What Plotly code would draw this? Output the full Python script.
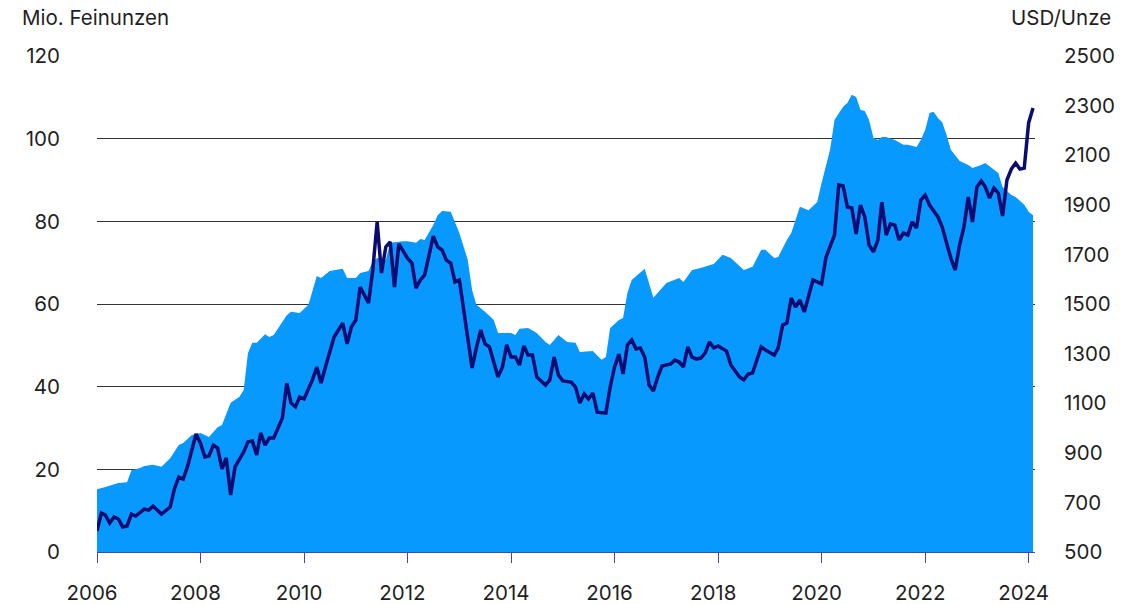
import plotly.graph_objects as go

# ETF holdings (Mio. Feinunzen) - left axis, area
etf_dates = [
    "2006-01", "2006-03", "2006-06", "2006-08", "2006-09", "2006-11", "2006-12",
    "2007-02", "2007-04", "2007-06", "2007-08", "2007-09", "2007-11",
    "2008-01", "2008-03", "2008-05", "2008-06", "2008-08", "2008-10", "2008-11", "2008-12",
    "2009-01", "2009-02", "2009-04", "2009-05", "2009-06", "2009-09", "2009-10", "2009-12",
    "2010-02", "2010-04", "2010-05", "2010-07", "2010-10", "2010-11",
    "2011-01", "2011-02", "2011-04", "2011-05", "2011-06", "2011-08", "2011-09", "2011-12",
    "2012-01", "2012-03", "2012-04", "2012-05", "2012-07", "2012-08", "2012-09", "2012-11", "2012-12",
    "2013-01", "2013-03", "2013-04", "2013-05", "2013-07", "2013-09", "2013-10",
    "2014-01", "2014-02", "2014-03", "2014-05", "2014-07", "2014-09", "2014-10", "2014-12",
    "2015-02", "2015-04", "2015-05", "2015-08", "2015-10", "2015-11", "2015-12",
    "2016-02", "2016-03", "2016-04", "2016-05", "2016-08", "2016-10",
    "2017-01", "2017-04", "2017-05", "2017-07", "2017-09", "2017-11", "2017-12",
    "2018-02", "2018-04", "2018-07", "2018-09", "2018-11", "2018-12",
    "2019-02", "2019-03", "2019-05", "2019-06", "2019-08", "2019-10", "2019-12",
    "2020-01", "2020-03", "2020-04", "2020-06", "2020-07", "2020-08", "2020-09", "2020-10", "2020-11", "2020-12",
    "2021-01", "2021-02", "2021-03", "2021-04", "2021-06", "2021-08", "2021-09", "2021-11", "2021-12",
    "2022-01", "2022-02", "2022-03", "2022-04", "2022-05", "2022-06", "2022-07", "2022-09", "2022-11", "2022-12",
    "2023-02", "2023-03", "2023-06", "2023-07", "2023-09", "2023-10", "2023-12",
    "2024-01", "2024-02",
]
etf_values = [
    15.2, 15.7, 16.7, 16.9, 19.8, 20.3, 20.8,
    21.1, 20.6, 22.7, 25.9, 26.4, 28.3,
    28.8, 27.8, 30.2, 30.7, 36.1, 37.5, 39.2, 48.1,
    50.6, 50.6, 52.7, 52.0, 52.5, 57.3, 58.1, 57.8,
    59.8, 66.8, 66.3, 68.0, 68.5, 66.3,
    66.3, 67.5, 68.0, 70.2, 71.1, 70.7, 74.8, 75.2,
    75.2, 74.8, 75.7, 75.5, 79.1, 81.5, 82.5, 82.3, 79.6,
    77.2, 70.7, 63.4, 59.8, 58.1, 56.1, 53.0,
    53.0, 52.5, 54.0, 54.2, 53.0, 50.8, 50.1, 52.5,
    50.8, 50.6, 48.4, 48.6, 46.5, 47.2, 54.2,
    56.1, 56.6, 62.7, 65.8, 68.5, 61.5,
    65.1, 66.3, 65.3, 68.2, 68.7, 69.4, 69.7,
    71.9, 71.1, 68.2, 69.0, 73.1, 73.1,
    71.1, 71.4, 75.5, 77.2, 83.5, 82.7, 84.7,
    89.3, 97.3, 104.5, 107.7, 108.6, 110.6, 110.1, 107.0, 106.7, 104.5,
    100.2, 99.7, 100.4, 100.4, 99.7, 98.5, 98.5, 98.0, 99.7,
    102.1, 106.2, 106.5, 105.0, 104.0, 100.9, 97.3, 94.6, 93.6, 92.9,
    93.6, 94.1, 91.7, 88.3, 86.4, 85.9, 84.0,
    82.3, 81.5,
]

# Gold price (USD/Unze) - right axis, line
gold_dates = [
    "2006-01", "2006-02", "2006-03", "2006-04", "2006-05", "2006-06", "2006-07", "2006-08", "2006-09", "2006-10", "2006-12",
    "2007-01", "2007-02", "2007-04", "2007-06", "2007-07", "2007-08", "2007-09", "2007-10", "2007-12",
    "2008-01", "2008-02", "2008-03", "2008-04", "2008-05", "2008-06", "2008-07", "2008-08", "2008-09", "2008-11", "2008-12",
    "2009-01", "2009-02", "2009-03", "2009-04", "2009-05", "2009-06", "2009-08", "2009-09", "2009-10", "2009-11", "2009-12",
    "2010-01", "2010-03", "2010-04", "2010-05", "2010-06", "2010-08", "2010-10", "2010-11", "2010-12",
    "2011-01", "2011-02", "2011-04", "2011-05", "2011-06", "2011-07", "2011-08", "2011-09", "2011-10", "2011-11",
    "2012-01", "2012-02", "2012-03", "2012-04", "2012-05", "2012-07", "2012-08", "2012-09", "2012-10", "2012-11", "2012-12",
    "2013-01", "2013-02", "2013-04", "2013-05", "2013-06", "2013-07", "2013-08", "2013-10", "2013-11", "2013-12",
    "2014-01", "2014-02", "2014-03", "2014-04", "2014-05", "2014-06", "2014-07", "2014-09", "2014-10", "2014-11", "2014-12",
    "2015-01", "2015-03", "2015-04", "2015-05", "2015-06", "2015-07", "2015-08", "2015-09", "2015-11", "2015-12",
    "2016-01", "2016-02", "2016-03", "2016-04", "2016-05", "2016-06", "2016-07", "2016-08", "2016-09", "2016-10", "2016-11", "2016-12",
    "2017-02", "2017-03", "2017-04", "2017-05", "2017-06", "2017-07", "2017-08", "2017-09", "2017-10", "2017-11", "2017-12",
    "2018-01", "2018-03", "2018-04", "2018-06", "2018-07", "2018-08", "2018-09", "2018-11", "2018-12",
    "2019-02", "2019-03", "2019-04", "2019-05", "2019-06", "2019-07", "2019-08", "2019-09", "2019-11", "2019-12",
    "2020-01", "2020-02", "2020-04", "2020-05", "2020-06", "2020-07", "2020-08", "2020-09", "2020-10", "2020-11", "2020-12",
    "2021-01", "2021-02", "2021-03", "2021-04", "2021-05", "2021-06", "2021-07", "2021-08", "2021-09", "2021-10", "2021-11", "2021-12",
    "2022-01", "2022-02", "2022-04", "2022-05", "2022-06", "2022-07", "2022-08", "2022-09", "2022-10", "2022-11", "2022-12",
    "2023-01", "2023-02", "2023-03", "2023-04", "2023-05", "2023-06", "2023-07", "2023-08", "2023-09", "2023-10", "2023-11", "2023-12",
    "2024-01", "2024-02",
]
gold_values = [
    585, 657, 649, 617, 641, 633, 601, 605, 653, 645, 673,
    669, 685, 653, 681, 754, 802, 794, 843, 976,
    939, 883, 887, 931, 919, 835, 879, 730, 843, 903, 944,
    948, 891, 980, 931, 960, 960, 1040, 1181, 1101, 1085, 1125,
    1117, 1194, 1246, 1181, 1246, 1367, 1423, 1339, 1407,
    1435, 1568, 1504, 1637, 1831, 1625, 1730, 1750, 1568, 1742,
    1685, 1665, 1564, 1597, 1617, 1774, 1730, 1718, 1677, 1665, 1589,
    1597, 1476, 1242, 1323, 1395, 1339, 1327, 1206, 1246, 1335,
    1286, 1286, 1254, 1331, 1294, 1294, 1206, 1173, 1194, 1286, 1214,
    1190, 1185, 1165, 1101, 1137, 1117, 1141, 1064, 1060, 1165,
    1246, 1298, 1218, 1335, 1355, 1319, 1323, 1286, 1173, 1149, 1206, 1250,
    1258, 1274, 1266, 1246, 1327, 1286, 1278, 1282, 1302, 1347, 1323,
    1331, 1310, 1254, 1206, 1194, 1218, 1222, 1327, 1314,
    1294, 1323, 1415, 1423, 1524, 1488, 1516, 1468, 1597, 1589,
    1581, 1689, 1778, 1980, 1976, 1891, 1887, 1782, 1899, 1851, 1738,
    1710, 1758, 1911, 1778, 1823, 1818, 1758, 1786, 1778, 1831, 1806, 1919,
    1939, 1899, 1851, 1810, 1746, 1685, 1637, 1738, 1810, 1931, 1831,
    1972, 1996, 1972, 1927, 1968, 1947, 1855, 2000, 2044, 2068, 2044, 2048,
    2230, 2290,
]

x_tick_years = ["2006", "2008", "2010", "2012", "2014", "2016", "2018", "2020", "2022", "2024"]
left_ticks = [0, 20, 40, 60, 80, 100, 120]
right_ticks = [500, 700, 900, 1100, 1300, 1500, 1700, 1900, 2100, 2300, 2500]

FONT = "Inter, 'Open Sans', sans-serif"
TXT = "#1f1f1f"
AREA = "#0799FD"
LINE = "#0B0B72"
AXIS = "#4646A6"
TICK_SIZE = 20.5

fig = go.Figure()
fig.add_trace(go.Scatter(
    x=etf_dates, y=etf_values, mode="lines", fill="tozeroy",
    fillcolor=AREA, line=dict(width=0, color=AREA),
    name="ETF-Bestände", yaxis="y", hoverinfo="skip",
))
fig.add_trace(go.Scatter(
    x=gold_dates, y=gold_values, mode="lines",
    line=dict(width=3.5, color=LINE), name="Goldpreis", yaxis="y2",
))

fig.update_layout(
    width=1121, height=604,
    margin=dict(l=97, r=86, t=56, b=52, autoexpand=False),
    paper_bgcolor="white", plot_bgcolor="white",
    showlegend=False,
    font=dict(family=FONT, size=TICK_SIZE, color=TXT),
    xaxis=dict(
        type="date",
        range=["2006-01-01", "2024-02-15"],
        tickvals=[f"{y}-01-01" for y in x_tick_years],
        ticktext=x_tick_years,
        showgrid=False, zeroline=False,
        showline=True, linecolor=AXIS, linewidth=1,
        ticks="outside", ticklen=10, tickcolor=AXIS, tickwidth=1,
        ticklabelstandoff=12, ticklabelshift=-5, automargin=False,
        tickfont=dict(size=TICK_SIZE, color=TXT),
    ),
    yaxis=dict(
        range=[0, 120], tickvals=left_ticks,
        showgrid=True, gridcolor="#333333", gridwidth=1,
        zeroline=False, showline=False, ticks="",
        ticklabelstandoff=36, automargin=False,
        tickfont=dict(size=TICK_SIZE, color=TXT),
    ),
    yaxis2=dict(
        range=[500, 2500], tickvals=right_ticks,
        overlaying="y", side="right",
        showgrid=False, zeroline=False, showline=False, ticks="",
        ticklabelstandoff=28, automargin=False,
        tickfont=dict(size=TICK_SIZE, color=TXT),
    ),
    annotations=[
        dict(text="Mio. Feinunzen", xref="paper", yref="paper", x=-77/938, y=1,
             xanchor="left", yanchor="bottom", yshift=24, showarrow=False,
             font=dict(size=20.5, color=TXT, family=FONT)),
        dict(text="USD/Unze", xref="paper", yref="paper", x=1 + 78/938, y=1,
             xanchor="right", yanchor="bottom", yshift=24, showarrow=False,
             font=dict(size=20.5, color=TXT, family=FONT)),
    ],
)

fig.write_html(
    "out.html",
    config={"displayModeBar": False, "staticPlot": True},
    post_script="document.body.style.margin='0';document.body.style.overflow='hidden';",
)
